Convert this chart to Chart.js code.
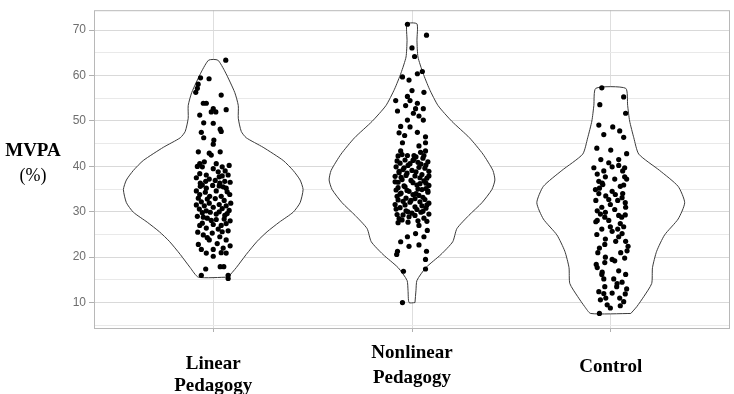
<!DOCTYPE html>
<html>
<head>
<meta charset="utf-8">
<script src="https://cdn.jsdelivr.net/npm/chart.js@4.4.1/dist/chart.umd.min.js"></script>
<style>
  body { margin: 0; background: #fff; }
  #wrap { width: 734px; height: 394px; }
</style>
</head>
<body>
<div id="wrap"><canvas id="violinChart" width="734" height="394"></canvas></div>
<script>
// Groups (x = 1, 2, 3)
const groups = ['Linear Pedagogy', 'Nonlinear Pedagogy', 'Control'];
const groupLabels = [['Linear', 'Pedagogy'], ['Nonlinear', 'Pedagogy'], ['Control']];
const yTickLabels = [10, 20, 30, 40, 50, 60, 70];

// Violin outlines: MVPA level and half width (in category units)
const linearLevels = [15.6, 17.7, 20.6, 23.5, 25.6, 27.7, 29.9, 32.0, 34.9, 37.0, 39.1, 41.3, 44.2, 46.3, 47.7, 50.6, 53.4, 56.3, 60.8, 63.4];
const linearWidth  = [.075, .116, .166, .221, .271, .332, .402, .437, .452, .437, .402, .352, .251, .166, .141, .126, .126, .108, .060, .023];
const nonlinearLevels = [10.0, 12.7, 14.9, 17.7, 20.6, 23.4, 26.3, 29.2, 32.0, 34.9, 37.0, 39.1, 42.7, 46.3, 49.9, 53.4, 57.0, 60.6, 64.1, 67.7, 71.4];
const nonlinearWidth  = [.015, .020, .025, .070, .146, .205, .226, .286, .352, .402, .417, .407, .357, .289, .201, .131, .088, .055, .030, .025, .025];
const controlLevels = [7.6, 9.1, 11.3, 14.2, 17.7, 21.3, 24.9, 28.4, 32.0, 35.6, 39.1, 42.7, 46.3, 50.0, 53.4, 57.2];
const controlWidth  = [.101, .131, .166, .206, .210, .231, .271, .339, .372, .339, .246, .141, .116, .095, .085, .075];

// Individual observations: jitter offset (category units) and MVPA (%)
const linearJitter = [
  .063, -.064, -.021, -.076, -.080, -.088, .040, -.050, -.035, 0, .013, .065, -.068, -.010, -.048, 0, .035, .040, -.060, -.048,
  .003, 0, -.075, -.020, -.010, .035, -.068, -.055, .015, .045, .080, -.068, -.035, .030, .075, -.065, -.038, .033, .058,
  -.065, -.035, .030, .065, -.068, -.018, .040, .083, -.060, -.020, .030, .065, -.070, -.035, .015, .058, -.050, -.068, -.010, .040,
  -.050, -.020, .033, .065, -.060, -.035, 0, .050, .065, 0, -.038, .035, .053, -.060, .075, .075,
  -.080, -.045, .000, .025, .060, -.085, -.020, .010, .045, .085, -.055, -.003, .050, -.085, -.040, .015, .070, -.075, -.030, .010,
  .055, .088, -.085, -.045, .000, .045, .080, -.055, -.015, .030, .070, -.080, -.030, .015, .055, .085, -.055, .000, .065, -.035,
  .025, .075, -.078, -.005, .045, -.030, .085, -.075, .020, .040
];
const linearMVPA = [
  63.4, 59.5, 59.3, 58.1, 57.2, 56.3, 55.7, 53.9, 53.9, 52.7, 52.0, 52.5, 51.3, 52.0, 49.6, 49.5, 48.2, 47.7, 47.5, 46.3,
  45.8, 44.9, 43.2, 42.9, 42.5, 43.2, 40.6, 39.9, 40.6, 39.9, 40.2, 38.4, 38.1, 37.7, 38.1, 36.3, 36.7, 36.3, 36.7,
  35.6, 35.2, 35.7, 35.2, 33.8, 33.4, 33.4, 33.8, 32.2, 31.9, 31.6, 31.3, 30.6, 30.2, 29.5, 29.2, 28.8, 27.0, 28.1, 27.0,
  24.9, 23.8, 24.5, 23.8, 21.7, 20.9, 21.7, 22.0, 20.9, 20.2, 17.4, 17.9, 17.9, 16.0, 16.0, 15.3,
  40.0, 41.0, 39.5, 38.8, 39.0, 37.5, 37.2, 36.9, 37.9, 36.5, 35.9, 35.8, 35.5, 34.6, 34.3, 34.6, 34.4, 33.0, 32.8, 32.9,
  32.5, 31.9, 31.5, 31.3, 31.0, 30.7, 30.3, 29.8, 29.9, 30.0, 29.6, 29.0, 28.6, 28.3, 28.4, 28.0, 27.5, 27.2, 27.4, 26.4,
  26.2, 25.8, 25.5, 25.3, 25.6, 24.3, 22.5, 22.8, 23.0, 21.0
];

const nonlinearJitter = [
  -.023, .073, 0, .013, .027, .052, -.048, -.015, 0, .060, -.023, -.082, -.010, .027, -.032, .018, .057, -.073, .007, .035,
  -.023, .057, -.057, -.010, -.065, .027, .068, -.037, -.048, .035, .068, -.057, -.023, .010, .043, .068,
  -.070, .035, .077, -.023, .018, .060, -.057, -.015, .035, -.073, .073, .068, -.077, -.043, .068, -.048,
  -.070, .055, -.035, .020, .080, -.060, .005, .045, -.080, -.020, .065, -.045, .030, .085, -.065, .000, .050, -.085,
  -.025, .075, -.050, .015, .060, -.070, -.005, .040, .085, -.035, .025, .070, -.080, -.015, .050, -.055, .005, .080,
  -.075, -.030, .035, .065, -.045, .015, .085, -.085, -.010, .050, -.060, .025, .070, -.030, .000, .045, -.075, -.015,
  .060, -.050, .030,
  -.050, .010, .060, -.075, -.010, .035, -.040, .070, -.065, .020, -.030, .085, -.055, .040, -.085, .005, .070, -.040,
  -.070, .030, .080, -.025, -.060, .020, .055, -.005, -.070, .040, -.035, .015, .075, -.080, -.020, .055, -.045, .085,
  .015, -.065, .075, -.020
];
const nonlinearMVPA = [
  71.3, 68.9, 66.1, 64.2, 60.4, 60.9, 59.7, 59.0, 56.7, 56.3, 55.4, 54.5, 54.5, 53.9, 53.4, 52.7, 52.7, 52.2, 51.7, 51.1,
  50.2, 50.2, 48.8, 48.7, 47.4, 47.5, 46.5, 46.8, 45.2, 44.5, 45.2, 43.4, 42.4, 42.4, 43.1, 43.4,
  27.6, 27.0, 25.9, 24.5, 25.2, 24.5, 23.4, 22.4, 22.7, 21.3, 21.3, 19.5, 20.6, 16.9, 17.4, 10.0,
  42.3, 41.8, 41.4, 42.1, 41.0, 40.7, 41.3, 40.5, 39.9, 40.2, 39.6, 39.3, 40.9, 38.9, 38.6, 39.1, 38.2, 37.8,
  38.5, 37.4, 37.1, 37.9, 36.8, 36.5, 36.9, 36.2, 35.8, 35.5, 35.9, 35.1, 34.8, 34.5, 34.9, 34.1, 33.8, 34.3,
  33.4, 33.0, 33.6, 32.7, 32.3, 32.9, 31.9, 31.6, 32.1, 31.3, 30.9, 30.5, 30.8, 30.2, 29.7, 29.9, 29.4, 28.9,
  28.6, 28.2, 28.0,
  42.6, 41.6, 42.4, 41.2, 40.6, 39.8, 39.7, 40.3, 38.9, 38.8, 38.0, 37.9, 37.6, 37.5, 36.6, 36.4, 36.3, 35.7,
  35.3, 35.0, 34.6, 34.7, 33.9, 34.0, 33.2, 32.5, 32.6, 32.2, 31.5, 31.1, 31.5, 30.6, 30.0, 30.1, 29.3, 29.5,
  29.2, 28.5, 27.9, 27.7
];

const controlJitter = [
  -.045, .065, .075, -.055, -.060, .010, .045, -.035, .065, -.070, 0, .080,
  -.085, .007, .040, .070, -.068, -.027, .070, -.060, -.043, .048, .065, -.077, -.057, .007, .023, .057, -.010, -.002,
  .073, -.068, -.052, -.027, .073, .040, -.068, -.010, .048, -.002, .007, .065, .057, .040, -.027, .087, .082, -.057,
  -.027, .007, .020, -.073, -.068, -.043, -.035, .015, .032, .057, -.060, -.035, .007, .073, -.052, -.018, .048, -.057, -.002,
  -.050, .040, -.010, -.035, .060, .020, .080, -.040, -.060, .060, -.025, -.075, .035, -.045, .075, .020, -.030, .055,
  -.075, -.045, .035, -.070, .025, .075, -.030, -.065, .050, .070, -.030, .040, -.045, .075, -.030, .030, .080, -.025,
  .045, .065
];
const controlMVPA = [
  57.3, 55.3, 51.7, 53.6, 49.1, 48.7, 47.8, 47.0, 46.4, 44.0, 43.6, 42.8,
  39.7, 39.9, 40.2, 39.7, 38.3, 37.7, 37.7, 36.7, 36.3, 35.6, 35.9, 34.9, 35.2, 34.5, 33.8, 33.1, 32.7, 31.6,
  32.0, 30.2, 29.5, 29.9, 29.3, 29.2, 28.1, 28.1, 27.4, 26.7, 25.7, 26.7, 25.2, 24.5, 24.0, 22.4, 21.4, 22.0,
  20.0, 19.5, 19.2, 18.4, 17.7, 16.7, 15.2, 15.2, 14.2, 14.5, 12.4, 12.0, 12.1, 11.9, 10.6, 9.5, 9.3, 7.6, 8.8,
  41.5, 41.5, 40.8, 39.0, 39.0, 37.2, 37.2, 36.0, 34.0, 34.0, 33.5, 32.5, 32.5, 31.0, 31.0, 30.5, 28.8, 28.8,
  27.8, 26.2, 26.2, 25.0, 23.5, 23.5, 22.8, 21.0, 21.0, 19.8, 18.8, 17.0, 16.2, 16.2, 13.5, 13.5, 13.0, 11.0,
  11.0, 10.2
];

// closed outline: right side upward, then left side downward
function violinPath(center, levels, widths) {
  let pts = [];
  for (let i = 0; i < levels.length; i++) pts.push({ x: center + widths[i], y: levels[i] });
  for (let i = levels.length - 1; i >= 0; i--) pts.push({ x: center - widths[i], y: levels[i] });
  pts.push(pts[0]);
  return pts;
}

function jitterPoints(center, jitter, values) {
  return values.map((v, i) => ({ x: center + jitter[i], y: v }));
}

function violinDataset(data) {
  return {
    data: data,
    showLine: true,
    fill: 'shape',
    backgroundColor: '#ffffff',
    borderColor: '#3a3a3a',
    borderWidth: 1,
    pointRadius: 0,
    tension: 0.2,
    order: 2
  };
}

function pointDataset(data) {
  return {
    data: data,
    showLine: false,
    backgroundColor: '#000000',
    borderWidth: 0,
    pointRadius: 2.6,
    order: 1
  };
}

const serif = '"Liberation Serif", "Times New Roman", serif';

// text that chart.js titles can't do (mixed weights, uneven placement)
const textPlugin = {
  id: 'textPlugin',
  afterDraw(chart) {
    const ctx = chart.ctx;
    const area = chart.chartArea;
    const xs = chart.scales.x;
    ctx.save();
    // panel border
    ctx.strokeStyle = '#b8b8b8';
    ctx.lineWidth = 1;
    ctx.strokeRect(area.left + 0.5, area.top + 0.5, area.right - area.left - 1, area.bottom - area.top);

    ctx.fillStyle = '#000';
    ctx.textAlign = 'center';
    ctx.textBaseline = 'middle';
    ctx.font = 'bold 19px ' + serif;
    ctx.fillText('MVPA', 33, 151);
    ctx.font = '18px ' + serif;
    ctx.fillText('(%)', 33, 176);

    const rowY = [[364, 386], [353, 378], [367]];
    ctx.font = 'bold 19px ' + serif;
    groupLabels.forEach((lines, i) => {
      const x = xs.getPixelForValue(i + 1);
      lines.forEach((t, j) => ctx.fillText(t, x, rowY[i][j]));
    });
    ctx.restore();
  }
};

document.addEventListener('DOMContentLoaded', function () {
  let ctx = document.getElementById('violinChart').getContext('2d');

  new Chart(ctx, {
    type: 'scatter',
    data: {
      datasets: [
        pointDataset(jitterPoints(1, linearJitter, linearMVPA)),
        pointDataset(jitterPoints(2, nonlinearJitter, nonlinearMVPA)),
        pointDataset(jitterPoints(3, controlJitter, controlMVPA)),
        violinDataset(violinPath(1, linearLevels, linearWidth)),
        violinDataset(violinPath(2, nonlinearLevels, nonlinearWidth)),
        violinDataset(violinPath(3, controlLevels, controlWidth))
      ]
    },
    options: {
      responsive: false,
      animation: false,
      layout: { padding: { top: 2, right: 3, left: 0, bottom: 0 } },
      plugins: { legend: { display: false }, tooltip: { enabled: false } },
      scales: {
        x: {
          type: 'linear',
          min: 0.4,
          max: 3.6,
          afterBuildTicks: (scale) => { scale.ticks = groups.map((g, i) => ({ value: i + 1 })); },
          afterFit: (scale) => { scale.height = 66; },
          ticks: { display: false },
          grid: { color: '#dedede', tickColor: '#b0b0b0', tickLength: 4 },
          border: { display: false }
        },
        y: {
          min: 4.4,
          max: 74.4,
          afterBuildTicks: (scale) => {
            let t = [];
            yTickLabels.forEach(v => { t.push({ value: v - 5 }); t.push({ value: v }); });
            scale.ticks = t;
          },
          afterFit: (scale) => { scale.width = 94; },
          ticks: {
            color: '#6e6e6e',
            font: { family: '"Liberation Sans", Arial, sans-serif', size: 12 },
            padding: 3,
            callback: (v) => (yTickLabels.includes(v) ? String(v) : '')
          },
          grid: {
            color: (c) => (c.tick && c.tick.value % 10 === 0 ? '#d9d9d9' : '#e9e9e9'),
            tickColor: (c) => (c.tick && c.tick.value % 10 === 0 ? '#b0b0b0' : 'rgba(0,0,0,0)'),
            tickLength: 5
          },
          border: { display: false }
        }
      }
    },
    plugins: [textPlugin]
  });
});
</script>
</body>
</html>
